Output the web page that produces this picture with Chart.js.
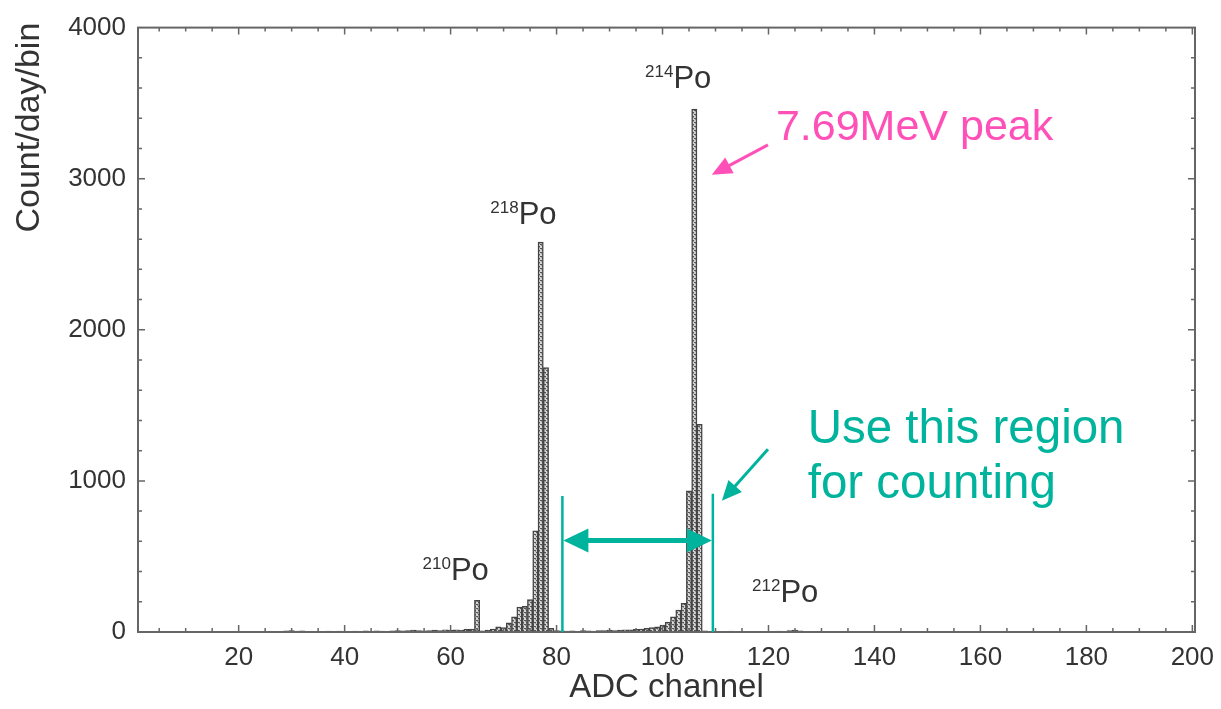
<!DOCTYPE html>
<html>
<head>
<meta charset="utf-8">
<script src="https://cdn.jsdelivr.net/npm/chart.js@4.4.0/dist/chart.umd.min.js"></script>
<style>
  html, body { margin: 0; padding: 0; background: #fff; }
</style>
</head>
<body>
<canvas id="spectrum" width="1221" height="709"></canvas>
<script>
// ADC channels 1..200, one bin per channel
const channels = Array.from({ length: 200 }, (_, i) => i + 1);

// count/day/bin for each channel
const counts = [
  0, 0, 0, 0, 0, 0, 0, 0, 0, 0,            // 1-10
  0, 0, 0, 0, 0, 0, 0, 0, 0, 0,            // 11-20
  0, 0, 0, 0, 3, 0, 0, 5, 8, 10,           // 21-30
  6, 8, 5, 0, 0, 4, 6, 5, 6, 4,            // 31-40
  5, 6, 4, 7, 5, 8, 6, 5, 7, 9,            // 41-50
  8, 10, 12, 9, 7, 10, 12, 10, 14, 12,     // 51-60
  15, 12, 18, 20, 210, 8, 12, 20, 35, 30,  // 61-70
  60, 100, 165, 170, 215, 670, 2580, 1750, 25, 10, // 71-80
  8, 6, 8, 5, 10, 8, 6, 9, 10, 12,         // 81-90
  10, 12, 15, 14, 18, 20, 25, 30, 35, 45,  // 91-100
  65, 100, 145, 190, 935, 3460, 1375, 8, 5, 4, // 101-110
  5, 3, 6, 4, 3, 5, 2, 4, 3, 5,            // 111-120
  4, 6, 5, 10, 12, 8, 5, 3, 4, 2,          // 121-130
  0, 0, 0, 0, 0, 0, 0, 0, 0, 0,            // 131-140
  0, 0, 0, 0, 0, 0, 0, 0, 0, 0,
  0, 0, 0, 0, 0, 0, 0, 0, 0, 0,
  0, 0, 0, 0, 0, 0, 0, 0, 0, 0,
  0, 0, 0, 0, 0, 0, 0, 0, 0, 0,
  0, 0, 0, 0, 0, 0, 0, 0, 0, 0,
  0, 0, 0, 0, 0, 0, 0, 0, 0, 0             // 191-200
];

const xTicks = [20, 40, 60, 80, 100, 120, 140, 160, 180, 200];
const yTicks = [0, 1000, 2000, 3000, 4000];

// isotope peak labels: mass number, channel, count
const isotopes = ['214', '218', '210', '212'];
const isoChannel = [96.7, 67.5, 54.7, 116.9];
const isoCount = [3600, 2700, 345, 200];

// counting window (channels) and where its arrow sits
const windowLo = 81.1;
const windowHi = 109.5;
const windowArrowCount = 605;

const FONT = '"Liberation Sans", Arial, sans-serif';
const TEAL = '#00b39c';
const PINK = '#ff50b8';

function hatchPattern() {
  const c = document.createElement('canvas');
  c.width = 4; c.height = 4;
  const g = c.getContext('2d');
  g.fillStyle = '#d6d6d6';
  g.fillRect(0, 0, 4, 4);
  g.fillStyle = '#555';
  g.fillRect(0, 0, 2, 1);
  g.fillRect(2, 2, 2, 1);
  g.fillStyle = '#999';
  g.fillRect(1, 1, 1, 1);
  g.fillRect(3, 3, 1, 1);
  return g.createPattern(c, 'repeat');
}

function arrowHead(ctx, x1, y1, x2, y2, len, half) {
  const a = Math.atan2(y2 - y1, x2 - x1);
  ctx.beginPath();
  ctx.moveTo(x2, y2);
  ctx.lineTo(x2 - len * Math.cos(a) + half * Math.sin(a), y2 - len * Math.sin(a) - half * Math.cos(a));
  ctx.lineTo(x2 - len * Math.cos(a) - half * Math.sin(a), y2 - len * Math.sin(a) + half * Math.cos(a));
  ctx.closePath();
  ctx.fill();
}

function arrow(ctx, x1, y1, x2, y2, color, width, len, half, both) {
  const a = Math.atan2(y2 - y1, x2 - x1);
  ctx.strokeStyle = color;
  ctx.fillStyle = color;
  ctx.lineWidth = width;
  ctx.beginPath();
  ctx.moveTo(both ? x1 + (len - 2) * Math.cos(a) : x1, both ? y1 + (len - 2) * Math.sin(a) : y1);
  ctx.lineTo(x2 - (len - 2) * Math.cos(a), y2 - (len - 2) * Math.sin(a));
  ctx.stroke();
  arrowHead(ctx, x1, y1, x2, y2, len, half);
  if (both) arrowHead(ctx, x2, y2, x1, y1, len, half);
}

// frame on all four sides plus inward ticks
const frameTicks = {
  id: 'frameTicks',
  afterDraw(chart) {
    const { ctx, chartArea: a, scales: { x, y } } = chart;
    ctx.save();
    ctx.strokeStyle = '#666';
    ctx.lineWidth = 2;
    ctx.strokeRect(a.left, a.top, a.right - a.left, a.bottom - a.top);
    ctx.lineWidth = 1.5;
    ctx.beginPath();
    for (let v = 5; v <= 200; v += 5) {
      const px = x.getPixelForValue(v);
      const len = v % 20 === 0 ? 7 : 4;
      ctx.moveTo(px, a.bottom); ctx.lineTo(px, a.bottom - len);
      ctx.moveTo(px, a.top); ctx.lineTo(px, a.top + len);
    }
    for (let v = 200; v < 4000; v += 200) {
      const py = y.getPixelForValue(v);
      const len = v % 1000 === 0 ? 7 : 4;
      ctx.moveTo(a.left, py); ctx.lineTo(a.left + len, py);
      ctx.moveTo(a.right, py); ctx.lineTo(a.right - len, py);
    }
    ctx.stroke();

    // y axis title, placed near the top like the original plot
    ctx.fillStyle = '#333';
    ctx.font = '34px ' + FONT;
    ctx.textAlign = 'center';
    ctx.textBaseline = 'middle';
    ctx.translate(30, a.top + 100);
    ctx.rotate(-Math.PI / 2);
    ctx.fillText('Count/day/bin', 0, 0);
    ctx.restore();
  }
};

// isotope labels and the counting-window annotations
const notes = {
  id: 'notes',
  afterDraw(chart) {
    const { ctx, scales: { x, y } } = chart;
    ctx.save();
    ctx.textAlign = 'left';
    ctx.textBaseline = 'alphabetic';
    ctx.fillStyle = '#333';
    isotopes.forEach((mass, i) => {
      const px = x.getPixelForValue(isoChannel[i]);
      const py = y.getPixelForValue(isoCount[i]);
      ctx.font = '17px ' + FONT;
      ctx.fillText(mass, px, py - 11);
      const w = ctx.measureText(mass).width;
      ctx.font = '31px ' + FONT;
      ctx.fillText('Po', px + w, py);
    });

    // 7.69 MeV peak note
    ctx.fillStyle = PINK;
    ctx.font = '43px ' + FONT;
    ctx.fillText('7.69MeV peak', x.getPixelForValue(121.4), y.getPixelForValue(3257));
    arrow(ctx, x.getPixelForValue(119.9), y.getPixelForValue(3224),
      x.getPixelForValue(109.3), y.getPixelForValue(3026), PINK, 3, 20, 9, false);

    // counting window
    ctx.fillStyle = TEAL;
    ctx.font = '47.5px ' + FONT;
    ctx.fillText('Use this region', x.getPixelForValue(127.4), y.getPixelForValue(1250));
    ctx.fillText('for counting', x.getPixelForValue(127.4), y.getPixelForValue(888));
    arrow(ctx, x.getPixelForValue(119.9), y.getPixelForValue(1210),
      x.getPixelForValue(111.2), y.getPixelForValue(868), TEAL, 3, 20, 9, false);

    ctx.strokeStyle = TEAL;
    ctx.lineWidth = 2.5;
    ctx.beginPath();
    ctx.moveTo(x.getPixelForValue(windowLo), y.getPixelForValue(0));
    ctx.lineTo(x.getPixelForValue(windowLo), y.getPixelForValue(900));
    ctx.moveTo(x.getPixelForValue(windowHi), y.getPixelForValue(0));
    ctx.lineTo(x.getPixelForValue(windowHi), y.getPixelForValue(915));
    ctx.stroke();
    arrow(ctx, x.getPixelForValue(windowLo) + 1, y.getPixelForValue(windowArrowCount),
      x.getPixelForValue(windowHi) - 1, y.getPixelForValue(windowArrowCount), TEAL, 5, 25, 12, true);
    ctx.restore();
  }
};

new Chart(document.getElementById('spectrum'), {
  type: 'bar',
  data: {
    datasets: [{
      data: channels.map((c, i) => ({ x: c, y: counts[i] })),
      backgroundColor: hatchPattern(),
      borderColor: '#444',
      borderWidth: 1.5,
      borderSkipped: 'bottom',
      barPercentage: 1,
      categoryPercentage: 1
    }]
  },
  options: {
    responsive: false,
    devicePixelRatio: 1,
    animation: false,
    layout: { padding: { top: 24, right: 26, left: 0, bottom: 0 } },
    plugins: { legend: { display: false }, tooltip: { enabled: false } },
    scales: {
      x: {
        type: 'linear',
        offset: false,
        min: 1,
        max: 200.5,
        afterBuildTicks: s => { s.ticks = xTicks.map(v => ({ value: v })); },
        afterFit: s => { s.height = 77; s.paddingLeft = 0; s.paddingRight = 0; },
        grid: { display: false, drawTicks: false, offset: false },
        border: { display: false },
        ticks: { font: { size: 26, family: FONT }, color: '#333', padding: 10, maxRotation: 0, autoSkip: false, callback: v => String(v) },
        title: { display: true, text: 'ADC channel', font: { size: 33, family: FONT }, color: '#333', padding: { top: 0, bottom: 1 } }
      },
      y: {
        min: 0,
        max: 4000,
        afterBuildTicks: s => { s.ticks = yTicks.map(v => ({ value: v })); },
        afterFit: s => { s.width = 138; },
        grid: { display: false, drawTicks: false },
        border: { display: false },
        ticks: { font: { size: 26, family: FONT }, color: '#333', padding: 12, callback: v => String(v) }
      }
    }
  },
  plugins: [frameTicks, notes]
});
</script>
</body>
</html>
